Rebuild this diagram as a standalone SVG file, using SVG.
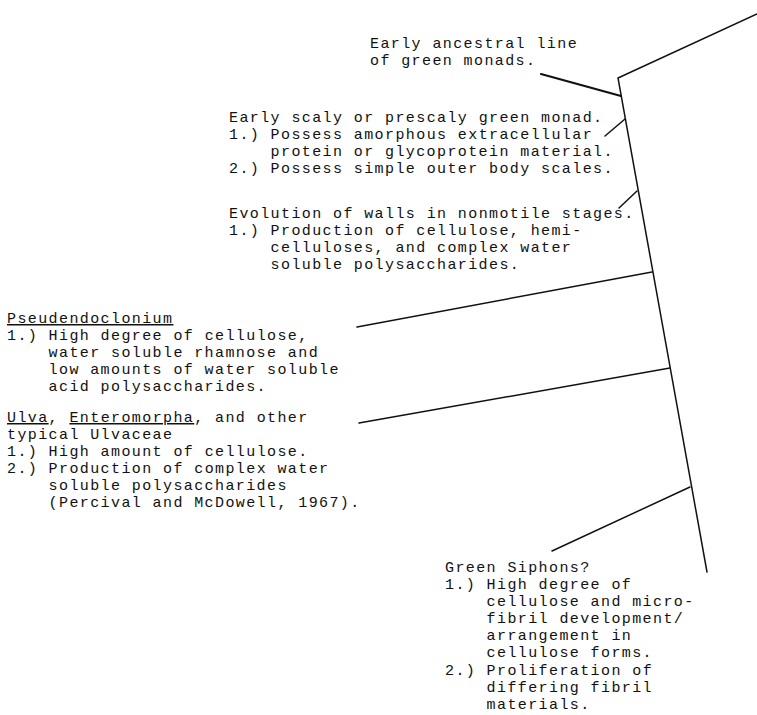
<svg xmlns="http://www.w3.org/2000/svg" width="757" height="715" viewBox="0 0 757 715">
<style>
text{font-family:"Liberation Mono","Courier New",monospace;font-size:15px;letter-spacing:1.4px;fill:#111}
.u{text-decoration:underline}
.c{stroke:#111;stroke-width:1.5;fill:none;stroke-linecap:round;stroke-linejoin:miter}
.t{stroke-width:2.2}
</style>
<rect width="757" height="715" fill="#fff"/>
<g id="connectors">
<polyline class="c" points="757,14 618,78 707,572"/>
<line class="c t" x1="541" y1="74" x2="621" y2="96"/>
<line class="c" x1="605" y1="136" x2="625" y2="119"/>
<line class="c" x1="619" y1="208" x2="637" y2="191"/>
<line class="c" x1="357" y1="327" x2="652" y2="272"/>
<line class="c" x1="359" y1="423" x2="670" y2="368"/>
<line class="c" x1="552" y1="551" x2="690" y2="487"/>
</g>
<g id="ancestral">
<text x="370" y="48">Early ancestral line</text>
<text x="370" y="65">of green monads.</text>
</g>
<g id="scaly">
<text x="229" y="122">Early scaly or prescaly green monad.</text>
<text x="229" y="139">1.) Possess amorphous extracellular</text>
<text x="270.6" y="156">protein or glycoprotein material.</text>
<text x="229" y="173">2.) Possess simple outer body scales.</text>
</g>
<g id="walls">
<text x="229" y="218">Evolution of walls in nonmotile stages.</text>
<text x="229" y="235">1.) Production of cellulose, hemi-</text>
<text x="270.6" y="252">celluloses, and complex water</text>
<text x="270.6" y="269">soluble polysaccharides.</text>
</g>
<g id="pseudendoclonium">
<text x="7" y="323"><tspan class="u">Pseudendoclonium</tspan></text>
<text x="7" y="340">1.) High degree of cellulose,</text>
<text x="48.6" y="357">water soluble rhamnose and</text>
<text x="48.6" y="374">low amounts of water soluble</text>
<text x="48.6" y="391">acid polysaccharides.</text>
</g>
<g id="ulva">
<text x="7" y="422"><tspan class="u">Ulva</tspan>, <tspan class="u">Enteromorpha</tspan>, and other</text>
<text x="7" y="439">typical Ulvaceae</text>
<text x="7" y="456">1.) High amount of cellulose.</text>
<text x="7" y="473">2.) Production of complex water</text>
<text x="48.6" y="490">soluble polysaccharides</text>
<text x="48.6" y="507">(Percival and McDowell, 1967).</text>
</g>
<g id="siphons">
<text x="445" y="572">Green Siphons?</text>
<text x="445" y="589">1.) High degree of</text>
<text x="486.6" y="606">cellulose and micro-</text>
<text x="486.6" y="623">fibril development/</text>
<text x="486.6" y="640">arrangement in</text>
<text x="486.6" y="657">cellulose forms.</text>
<text x="445" y="675">2.) Proliferation of</text>
<text x="486.6" y="692">differing fibril</text>
<text x="486.6" y="709">materials.</text>
</g>
</svg>
